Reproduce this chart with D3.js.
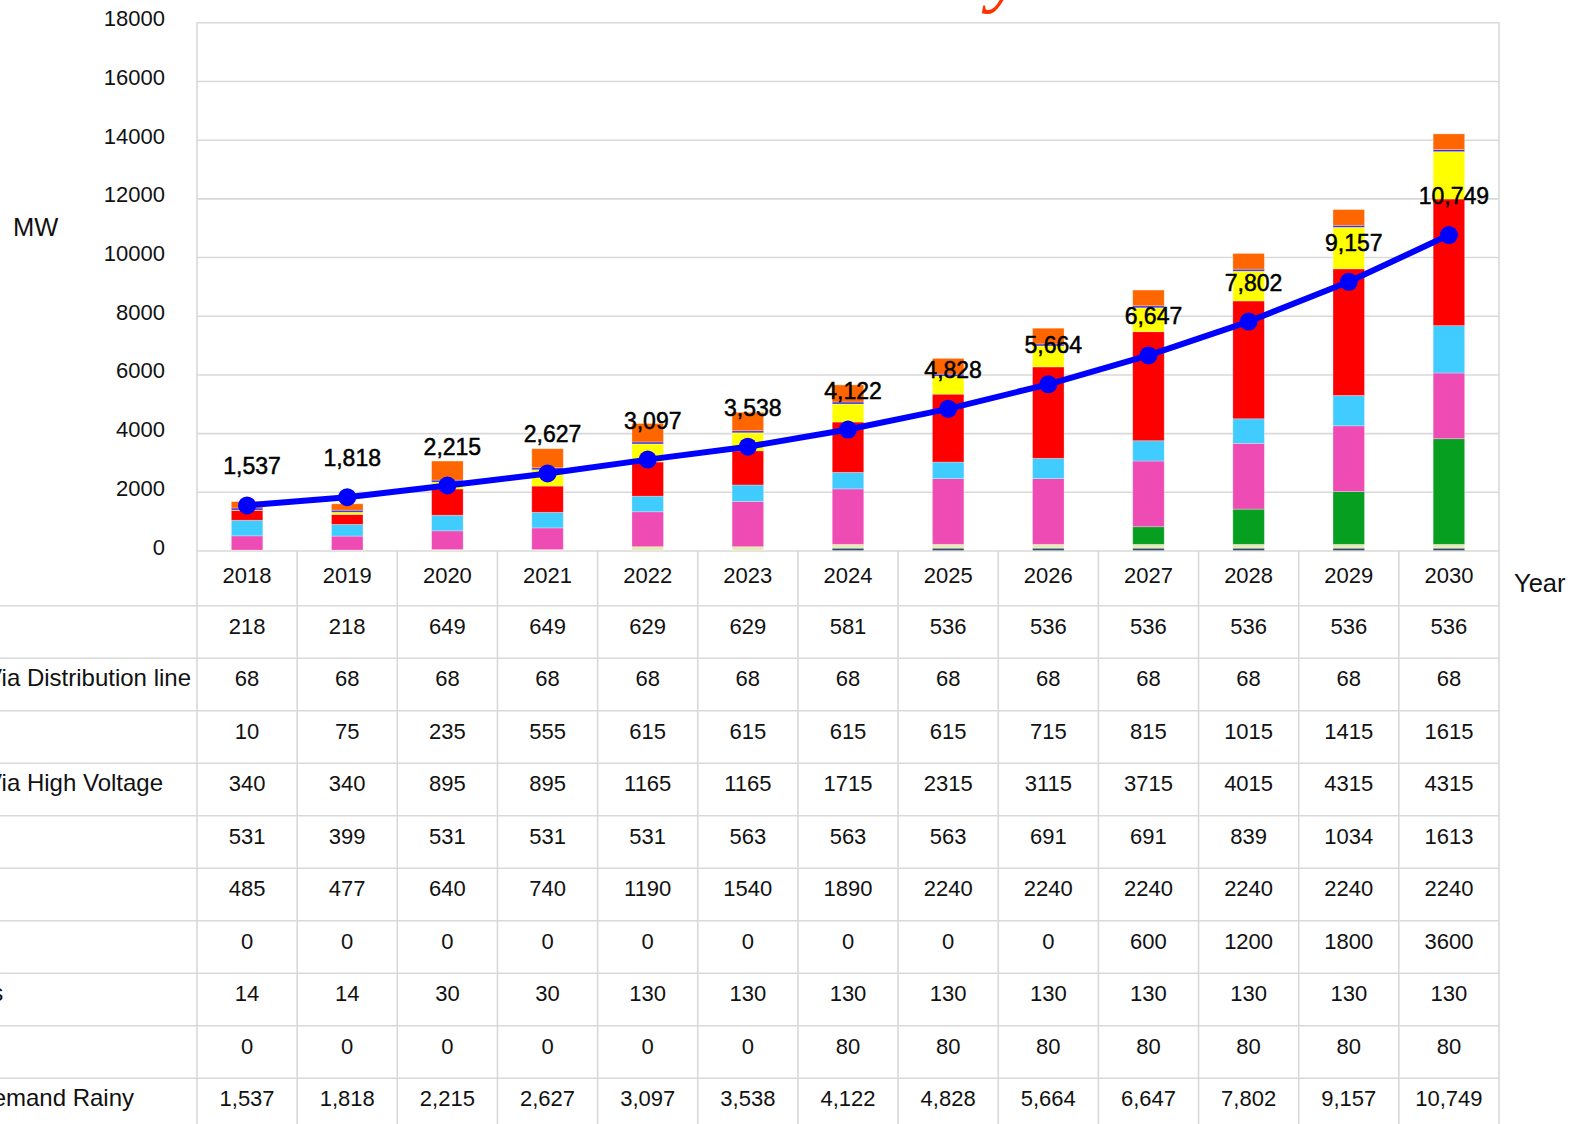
<!DOCTYPE html>
<html>
<head>
<meta charset="utf-8">
<script src="https://cdn.jsdelivr.net/npm/d3@7"></script>
<style>
  body { margin: 0; background: #fff; overflow: hidden; }
  svg { display: block; font-family: "Liberation Sans", Arial, sans-serif; }
</style>
</head>
<body>
<div id="chart"></div>
<script>
var years = [2018, 2019, 2020, 2021, 2022, 2023, 2024, 2025, 2026, 2027, 2028, 2029, 2030];

// table rows, top to bottom (stack is drawn bottom to top = reverse)
var rowLabels = ["Diesel", "Solar Via Distribution line", "Wind", "Solar Via High Voltage",
                 "Gas", "Hydro", "Coal", "Imports", "Biogas", "Max Demand Rainy"];

var diesel       = [218, 218, 649, 649, 629, 629, 581, 536, 536, 536, 536, 536, 536];
var solarDist    = [68, 68, 68, 68, 68, 68, 68, 68, 68, 68, 68, 68, 68];
var wind         = [10, 75, 235, 555, 615, 615, 615, 615, 715, 815, 1015, 1415, 1615];
var solarHV      = [340, 340, 895, 895, 1165, 1165, 1715, 2315, 3115, 3715, 4015, 4315, 4315];
var gas          = [531, 399, 531, 531, 531, 563, 563, 563, 691, 691, 839, 1034, 1613];
var hydro        = [485, 477, 640, 740, 1190, 1540, 1890, 2240, 2240, 2240, 2240, 2240, 2240];
var coal         = [0, 0, 0, 0, 0, 0, 0, 0, 0, 600, 1200, 1800, 3600];
var imports      = [14, 14, 30, 30, 130, 130, 130, 130, 130, 130, 130, 130, 130];
var biogas       = [0, 0, 0, 0, 0, 0, 80, 80, 80, 80, 80, 80, 80];
var demandRainy  = [1537, 1818, 2215, 2627, 3097, 3538, 4122, 4828, 5664, 6647, 7802, 9157, 10749];

var yTicks = [0, 2000, 4000, 6000, 8000, 10000, 12000, 14000, 16000, 18000];

var seriesKeys = ["biogas", "imports", "coal", "hydro", "gas", "solarHV", "wind", "solarDist", "diesel"];
var seriesData = { diesel: diesel, solarDist: solarDist, wind: wind, solarHV: solarHV, gas: gas,
                   hydro: hydro, coal: coal, imports: imports, biogas: biogas };
var colors = { biogas: "#2e4d63", imports: "#e6ebb5", coal: "#079f1f", hydro: "#ee4cb4",
               gas: "#41ccff", solarHV: "#ff0000", wind: "#ffff00", solarDist: "#3f2fd0", diesel: "#ff6600" };

var W = 1583, H = 1124;
var plotL = 197, plotR = 1499, plotT = 22.3, plotB = 550.5;
var headerB = 605.8, rowH = 52.5;
var gridColor = "#d9d9d9";

var svg = d3.select("#chart").append("svg")
    .attr("width", W)
    .attr("height", H);

var x = d3.scaleBand().domain(years).range([plotL, plotR]).paddingInner(0).paddingOuter(0);
var y = d3.scaleLinear().domain([0, 18000]).range([plotB, plotT]);

// title (mostly off the top of the picture)
svg.append("text")
    .attr("x", 1024)
    .attr("y", -3)
    .attr("text-anchor", "end")
    .attr("font-family", "Liberation Serif, serif")
    .attr("font-style", "italic")
    .attr("font-size", 80)
    .attr("fill", "#ff3300")
    .text("Demand and Installed Electricity");

// grid lines
svg.append("g")
    .attr("class", "grid")
    .attr("transform", "translate(" + plotL + ",0)")
    .call(d3.axisLeft(y).tickValues(yTicks).tickSize(-(plotR - plotL)).tickFormat(""))
    .call(function(g) {
        g.select(".domain").remove();
        g.selectAll("line").attr("stroke", gridColor).attr("stroke-width", 1.6);
    });

// y tick labels
svg.append("g")
    .attr("class", "y-axis")
    .attr("transform", "translate(" + 165 + ",0)")
    .call(d3.axisLeft(y).tickValues(yTicks).tickSize(0).tickPadding(0).tickFormat(d3.format("d")))
    .call(function(g) {
        g.select(".domain").remove();
        g.selectAll("text")
            .attr("font-size", 22)
            .attr("font-family", "Liberation Sans, Arial, sans-serif")
            .attr("fill", "#111")
            .attr("dy", "0.16em");
    });

svg.append("text").attr("x", 13).attr("y", 236)
    .attr("font-size", 25.5).attr("fill", "#111").text("MW");
svg.append("text").attr("x", 1514).attr("y", 592)
    .attr("font-size", 25.5).attr("fill", "#111").text("Year");

// stacked bars
var table = years.map(function(yr, i) {
    var row = { year: yr };
    seriesKeys.forEach(function(k) { row[k] = seriesData[k][i]; });
    return row;
});
var stacked = d3.stack().keys(seriesKeys)(table);
var barW = 31.5;

svg.append("g").attr("class", "bars")
    .selectAll("g")
    .data(stacked)
    .enter().append("g")
    .attr("fill", function(d) { return colors[d.key]; })
    .selectAll("rect")
    .data(function(d) { return d; })
    .enter().append("rect")
    .attr("x", function(d) { return x(d.data.year) + x.bandwidth() / 2 - barW / 2; })
    .attr("width", barW)
    .attr("y", function(d) { return y(d[1]); })
    .attr("height", function(d) { return Math.max(0, y(d[0]) - y(d[1])); })
    .attr("stroke", "rgba(255,255,255,0.35)")
    .attr("stroke-width", 0.8);

// demand line
var cx = function(d, i) { return x(years[i]) + x.bandwidth() / 2; };
var line = d3.line()
    .x(cx)
    .y(function(d) { return y(d); });

svg.append("path")
    .datum(demandRainy)
    .attr("d", line)
    .attr("fill", "none")
    .attr("stroke", "#0000ff")
    .attr("stroke-width", 6)
    .attr("stroke-linejoin", "round");

svg.append("g").selectAll("circle")
    .data(demandRainy)
    .enter().append("circle")
    .attr("cx", cx)
    .attr("cy", function(d) { return y(d); })
    .attr("r", 9)
    .attr("fill", "#0000ff");

svg.append("g").selectAll("text")
    .data(demandRainy)
    .enter().append("text")
    .attr("x", function(d, i) { return cx(d, i) + 5; })
    .attr("y", function(d) { return y(d) - 31; })
    .attr("text-anchor", "middle")
    .attr("font-size", 23)
    .attr("fill", "#000")
    .attr("stroke", "#000")
    .attr("stroke-width", 0.5)
    .text(function(d) { return d3.format(",")(d); });

// data table
var tg = svg.append("g").attr("class", "data-table");

// horizontal row lines
var rowTops = rowLabels.map(function(r, i) { return headerB + i * rowH; });
tg.selectAll("line.h")
    .data(rowTops)
    .enter().append("line")
    .attr("class", "h")
    .attr("x1", 0).attr("x2", plotR)
    .attr("y1", function(d) { return d; }).attr("y2", function(d) { return d; })
    .attr("stroke", gridColor).attr("stroke-width", 1.6);

// vertical column lines
var colEdges = years.map(function(yr) { return x(yr); }).slice(1);
tg.selectAll("line.v")
    .data(colEdges)
    .enter().append("line")
    .attr("class", "v")
    .attr("x1", function(d) { return d; }).attr("x2", function(d) { return d; })
    .attr("y1", plotB).attr("y2", H)
    .attr("stroke", gridColor).attr("stroke-width", 1.6);

[plotL, plotR].forEach(function(px) {
    tg.append("line")
        .attr("x1", px).attr("x2", px)
        .attr("y1", plotT).attr("y2", H)
        .attr("stroke", gridColor).attr("stroke-width", 1.6);
});

// year header
tg.selectAll("text.year")
    .data(years)
    .enter().append("text")
    .attr("class", "year")
    .attr("x", function(d) { return x(d) + x.bandwidth() / 2; })
    .attr("y", 582.5)
    .attr("text-anchor", "middle")
    .attr("font-size", 22)
    .attr("fill", "#111")
    .text(function(d) { return d; });

var rowValues = [diesel, solarDist, wind, solarHV, gas, hydro, coal, imports, biogas, demandRainy];

// row labels share one left edge; the column is wider than the picture, so they run off the left
var labelG = tg.append("g").attr("class", "row-labels");
rowValues.forEach(function(vals, r) {
    var top = rowTops[r];
    var fmt = r === rowValues.length - 1 ? d3.format(",") : d3.format("d");
    labelG.append("text")
        .attr("y", top + 28)
        .attr("font-size", 24)
        .attr("fill", "#111")
        .text(rowLabels[r]);
    tg.append("g").selectAll("text")
        .data(vals)
        .enter().append("text")
        .attr("x", function(d, i) { return x(years[i]) + x.bandwidth() / 2; })
        .attr("y", top + 28)
        .attr("text-anchor", "middle")
        .attr("font-size", 22)
        .attr("fill", "#111")
        .text(fmt);
});
var refLabel = labelG.selectAll("text").filter(function(d, i) { return i === 1; }).node();
var labelX = 191 - refLabel.getComputedTextLength();
labelG.selectAll("text").attr("x", labelX);
</script>
</body>
</html>
